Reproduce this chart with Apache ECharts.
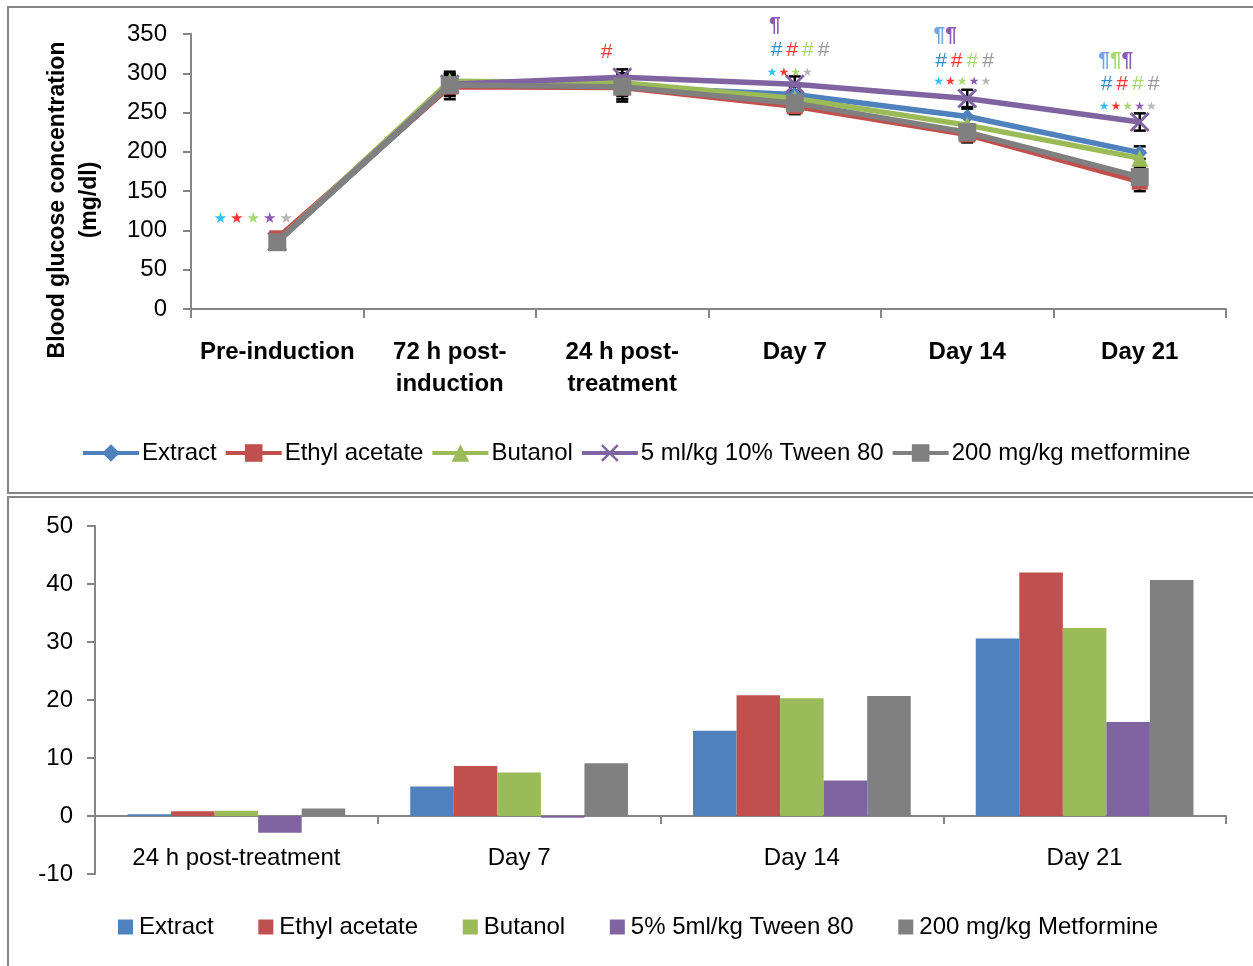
<!DOCTYPE html>
<html><head><meta charset="utf-8">
<script src="https://cdn.jsdelivr.net/npm/echarts@6/dist/echarts.min.js"></script>
<style>html,body{margin:0;padding:0;background:#fff}#c{width:1253px;height:966px}</style>
</head><body><div id="c"></div>
<script>
// ---------- DATA ----------
const lineCategories = ['Pre-induction', '72 h post-\ninduction', '24 h post-\ntreatment', 'Day 7', 'Day 14', 'Day 21'];
const lineNames = ['Extract', 'Ethyl acetate', 'Butanol', '5 ml/kg 10% Tween 80', '200 mg/kg metformine'];
const extractGlucose   = [86, 284, 283, 273, 245, 199];
const ethylGlucose     = [90, 283, 282, 258, 222, 162];
const butanolGlucose   = [86, 290, 288, 268, 234, 192];
const tweenGlucose     = [86, 286, 295, 286, 268, 238];
const metforminGlucose = [85, 285, 283, 262, 225, 168];
const extractErr   = [6, 12, 12, 10, 10, 8];
const ethylErr     = [6, 16, 18, 10, 10, 12];
const butanolErr   = [5, 12, 12, 10, 10, 8];
const tweenErr     = [5, 10, 10, 10, 11, 11];
const metforminErr = [5, 14, 16, 10, 10, 12];
const glucoseTicks = [0, 50, 100, 150, 200, 250, 300, 350];

const barCategories = ['24 h post-treatment', 'Day 7', 'Day 14', 'Day 21'];
const barNames = ['Extract', 'Ethyl acetate', 'Butanol', '5% 5ml/kg Tween 80', '200 mg/kg Metformine'];
const extractPct   = [0.3, 5.1, 14.7, 30.6];
const ethylPct     = [0.8, 8.6, 20.8, 42.0];
const butanolPct   = [0.9, 7.5, 20.3, 32.4];
const tweenPct     = [-2.9, -0.3, 6.1, 16.2];
const metforminPct = [1.3, 9.1, 20.7, 40.7];
const pctTicks = [-10, 0, 10, 20, 30, 40, 50];

// significance annotations: [category index, value level, marks]
const annoStarsPre   = [0, 115, '★★★★★'];
const annoHash24     = [2, 327, '#'];
const annoPilcrowD7  = [3, 361, '¶'];
const annoHashD7     = [3, 329, '####'];
const annoStarsD7    = [3, 301, '★★★★'];
const annoPilcrowD14 = [4, 349, '¶¶'];
const annoHashD14    = [4, 315, '####'];
const annoStarsD14   = [4, 289, '★★★★★'];
const annoPilcrowD21 = [5, 317, '¶¶¶'];
const annoHashD21    = [5, 286, '####'];
const annoStarsD21   = [5, 257, '★★★★★'];

// ---------- STYLE ----------
const FONT = '"Liberation Sans", Arial, sans-serif';
const FS = 24;
const colors = ['#4F81BD', '#C0504D', '#9BBB59', '#8064A2', '#808080'];
const axisGray = '#868686';
const starColors = {full: ['#00B0F0', '#FF0000', '#92D050', '#7030A0', '#A6A6A6'], four: ['#00B0F0', '#FF0000', '#92D050', '#A6A6A6']};
const hashColors = ['#0070C0', '#FF0000', '#92D050', '#7F7F7F'];

function richMarks(text, key) {
  return Array.from(text).map((c, i) => '{' + key + i + '|' + c + '}').join('');
}
function richStyles(palette, key, base) {
  const r = {};
  palette.forEach((col, i) => { r[key + i] = Object.assign({color: col}, base); });
  return r;
}
const starBig = {fontSize: 15, fontFamily: 'DejaVu Sans', padding: [0, 1.5]};
const starSmall = {fontSize: 12, fontFamily: 'DejaVu Sans', padding: [0, 0.5]};
const hashStyle = {fontSize: 21, fontFamily: FONT, fontStyle: 'italic', padding: [0, 2]};
const pilStyle = {fontSize: 21, fontFamily: FONT, fontWeight: 'bold', padding: [0, 0]};

const annoItems = [
  {a: annoStarsPre, pal: starColors.full, st: starBig, dx: -24},
  {a: annoHash24, pal: ['#FF0000'], st: hashStyle, dx: -16},
  {a: annoPilcrowD7, pal: ['#7030A0'], st: pilStyle, dx: -20},
  {a: annoHashD7, pal: hashColors, st: hashStyle, dx: 5},
  {a: annoStarsD7, pal: starColors.four, st: starSmall, dx: -5},
  {a: annoPilcrowD14, pal: ['#558ED5', '#7030A0'], st: pilStyle, dx: -22},
  {a: annoHashD14, pal: hashColors, st: hashStyle, dx: -3},
  {a: annoStarsD14, pal: starColors.full, st: starSmall, dx: -5},
  {a: annoPilcrowD21, pal: ['#558ED5', '#92D050', '#7030A0'], st: pilStyle, dx: -24},
  {a: annoHashD21, pal: hashColors, st: hashStyle, dx: -10},
  {a: annoStarsD21, pal: starColors.full, st: starSmall, dx: -12}
];

const annoData = annoItems.map((it, idx) => {
  const key = 'k' + idx + '_';
  return {
    value: [it.a[0], it.a[1]],
    label: {
      show: true, position: 'inside', offset: [it.dx, 0],
      formatter: richMarks(it.a[2], key),
      rich: richStyles(it.pal, key, it.st)
    }
  };
});

const xPath = 'path://M2,0 L10,8 L18,0 L20,2 L12,10 L20,18 L18,20 L10,12 L2,20 L0,18 L8,10 L0,2 Z';
const lineSymbols = ['diamond', 'rect', 'triangle', xPath, 'rect'];
const lineSizes = [15, 16, 17, 20, 18];
const lineData = [extractGlucose, ethylGlucose, butanolGlucose, tweenGlucose, metforminGlucose];
const lineErrs = [extractErr, ethylErr, butanolErr, tweenErr, metforminErr];
const barData = [extractPct, ethylPct, butanolPct, tweenPct, metforminPct];

const series = [];
lineData.forEach((d, i) => {
  series.push({
    type: 'custom', xAxisIndex: 0, yAxisIndex: 0, silent: true, z: 3,
    data: d.map((v, j) => [j, v - lineErrs[i][j], v + lineErrs[i][j]]),
    renderItem: function (params, api) {
      const lo = api.coord([api.value(0), api.value(1)]);
      const hi = api.coord([api.value(0), api.value(2)]);
      const w = 6;
      const st = {stroke: '#000', lineWidth: 2.5};
      return {type: 'group', children: [
        {type: 'line', shape: {x1: lo[0], y1: lo[1], x2: hi[0], y2: hi[1]}, style: st},
        {type: 'line', shape: {x1: lo[0] - w, y1: lo[1], x2: lo[0] + w, y2: lo[1]}, style: st},
        {type: 'line', shape: {x1: hi[0] - w, y1: hi[1], x2: hi[0] + w, y2: hi[1]}, style: st}
      ]};
    }
  });
});
lineData.forEach((d, i) => {
  series.push({
    name: lineNames[i], type: 'line', xAxisIndex: 0, yAxisIndex: 0, z: 5 + i,
    data: d, symbol: lineSymbols[i], symbolSize: lineSizes[i],
    lineStyle: {color: colors[i], width: 5.5},
    itemStyle: {color: colors[i]},
    showAllSymbol: true
  });
});
series.push({
  type: 'scatter', xAxisIndex: 0, yAxisIndex: 0, symbolSize: 0, clip: false, silent: true, z: 20,
  data: annoData
});
barData.forEach((d, i) => {
  series.push({
    name: barNames[i] + ' ', type: 'bar', xAxisIndex: 1, yAxisIndex: 1,
    data: d, barGap: '0%', barCategoryGap: '23%',
    itemStyle: {color: colors[i]}
  });
});

const option = {
  animation: false,
  textStyle: {fontFamily: FONT},
  graphic: [
    {type: 'rect', shape: {x: 8, y: 7, width: 1270, height: 486}, style: {fill: 'none', stroke: axisGray, lineWidth: 2}, silent: true, z: -1},
    {type: 'rect', shape: {x: 8, y: 497, width: 1270, height: 490}, style: {fill: 'none', stroke: axisGray, lineWidth: 2}, silent: true, z: -1},
    {type: 'text', x: 74, y: 200, rotation: Math.PI / 2, silent: true,
      style: {text: 'Blood glucose concentration\n(mg/dl)', fontFamily: FONT, fontWeight: 'bold', fontSize: 23, fill: '#000',
        textAlign: 'center', textVerticalAlign: 'middle', lineHeight: 32}}
  ],
  grid: [
    {left: 191, right: 27, top: 34, height: 275},
    {left: 95, right: 27, top: 526, height: 348}
  ],
  xAxis: [
    {type: 'category', gridIndex: 0, data: lineCategories, boundaryGap: true,
      axisLine: {lineStyle: {color: axisGray, width: 2}},
      axisTick: {show: true, alignWithLabel: false, length: 9, lineStyle: {color: axisGray, width: 2}},
      axisLabel: {color: '#000', fontSize: FS, fontWeight: 'bold', fontFamily: FONT, margin: 27, lineHeight: 32, interval: 0}},
    {type: 'category', gridIndex: 1, data: barCategories, boundaryGap: true,
      axisLine: {onZero: true, lineStyle: {color: axisGray, width: 2}},
      axisTick: {show: true, length: 8, lineStyle: {color: axisGray, width: 2}},
      axisLabel: {color: '#000', fontSize: FS, fontFamily: FONT, margin: -28, interval: 0}}
  ],
  yAxis: [
    {type: 'value', gridIndex: 0, min: glucoseTicks[0], max: glucoseTicks[glucoseTicks.length - 1], interval: 50,
      axisLine: {show: true, lineStyle: {color: axisGray, width: 2}},
      axisTick: {show: true, length: 8, lineStyle: {color: axisGray, width: 2}},
      splitLine: {show: false},
      axisLabel: {color: '#000', fontSize: FS, fontFamily: FONT, margin: 24}},
    {type: 'value', gridIndex: 1, min: pctTicks[0], max: pctTicks[pctTicks.length - 1], interval: 10,
      axisLine: {show: true, onZero: false, lineStyle: {color: axisGray, width: 2}},
      axisTick: {show: true, length: 8, lineStyle: {color: axisGray, width: 2}},
      splitLine: {show: false},
      axisLabel: {color: '#000', fontSize: FS, fontFamily: FONT, margin: 22}}
  ],
  legend: [
    {data: lineNames, top: 436, left: 76, itemWidth: 56, itemHeight: 22, itemGap: 7,
      lineStyle: {width: 4},
      textStyle: {fontSize: FS, color: '#000', fontFamily: FONT, padding: [0, 0, 0, -2]}},
    {data: barNames.map(n => n + ' '), top: 910, left: 113, itemWidth: 15, itemHeight: 15, itemGap: 38, icon: 'rect',
      textStyle: {fontSize: FS, color: '#000', fontFamily: FONT, padding: [0, 0, 0, 1]}}
  ],
  series: series
};
const chart = echarts.init(document.getElementById('c'), null, {renderer: 'canvas'});
chart.setOption(option);
</script></body></html>
